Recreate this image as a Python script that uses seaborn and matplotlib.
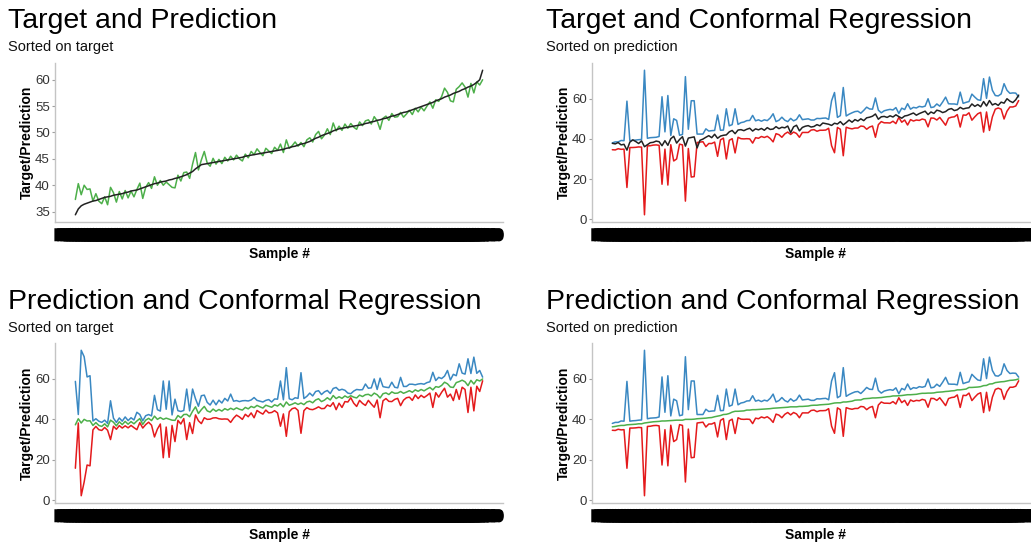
import matplotlib
matplotlib.use("Agg")
import pandas as pd
import matplotlib.pyplot as plt
import matplotlib.patheffects as pe
import seaborn as sns
from matplotlib.ticker import MultipleLocator

# values per sample, listed in target order
target = [
    34.4, 35.5, 36.1, 36.4, 36.6, 36.8, 37.0, 37.1, 37.3, 37.5,
    37.7, 37.8, 37.9, 38.1, 38.2, 38.3, 38.4, 38.6, 38.7, 38.9,
    39.0, 39.1, 39.3, 39.5, 39.7, 39.9, 40.1, 40.3, 40.4, 40.6,
    40.7, 40.8, 41.0, 41.1, 41.3, 41.4, 41.6, 41.8, 42.0, 42.3,
    42.6, 43.1, 43.5, 43.9, 44.0, 44.1, 44.2, 44.3, 44.4, 44.5,
    44.6, 44.7, 44.8, 44.9, 45.0, 45.1, 45.2, 45.3, 45.5, 45.6,
    45.7, 45.8, 45.9, 46.0, 46.1, 46.2, 46.3, 46.4, 46.5, 46.6,
    46.7, 46.8, 47.0, 47.1, 47.3, 47.4, 47.6, 47.8, 47.9, 48.1,
    48.3, 48.6, 48.9, 49.1, 49.4, 49.6, 49.8, 50.0, 50.3, 50.5,
    50.7, 50.8, 50.9, 51.0, 51.1, 51.2, 51.3, 51.4, 51.5, 51.7,
    51.8, 52.0, 52.1, 52.3, 52.4, 52.6, 52.7, 52.9, 53.1, 53.2,
    53.4, 53.6, 53.8, 53.9, 54.1, 54.3, 54.5, 54.7, 54.9, 55.1,
    55.3, 55.5, 55.7, 56.0, 56.2, 56.4, 56.7, 56.9, 57.1, 57.4,
    57.6, 57.8, 58.1, 58.3, 58.6, 58.8, 59.1, 59.5, 60.0, 61.8,
]
prediction = [
    37.3, 40.3, 38.2, 40.0, 39.2, 39.3, 37.0, 38.4, 37.0, 36.5,
    37.8, 36.3, 39.6, 38.6, 36.8, 38.8, 37.4, 39.0, 37.6, 38.9,
    37.8, 39.2, 40.4, 37.5, 39.6, 40.5, 39.4, 41.6, 40.0, 40.9,
    40.0, 40.6, 40.1, 39.6, 39.5, 41.9, 40.8, 42.4, 42.5, 41.3,
    44.0, 46.2, 42.9, 44.8, 46.4, 44.2, 43.6, 45.1, 44.0, 44.9,
    44.1, 45.3, 44.6, 45.5, 44.8, 45.7, 45.0, 44.6, 45.9, 45.2,
    46.4, 45.8, 46.9, 46.2, 45.6, 47.0, 46.5, 46.0, 47.2, 46.6,
    47.8, 46.2, 48.6, 47.0, 47.5, 48.2, 47.4, 48.1, 47.3, 48.6,
    49.0, 48.2, 49.6, 50.2, 48.8, 49.5, 50.7, 49.6, 51.8, 50.3,
    51.2, 50.4, 51.6, 50.8, 51.7, 51.0, 50.6, 52.0, 51.3, 52.2,
    52.4, 51.6, 53.0, 52.2, 50.6, 52.7, 53.1, 52.3, 53.6, 52.9,
    53.0, 53.8, 52.9, 53.5, 54.2, 53.4, 54.6, 53.9, 54.8, 54.1,
    55.0, 55.8, 54.6, 56.2, 55.9, 56.8, 58.4, 57.6, 56.0, 55.8,
    58.2, 58.7, 59.4, 58.6, 56.7, 59.3, 57.5, 59.6, 59.0, 60.0,
]
upper = [
    58.8, 42.4, 74.2, 71.0, 61.0, 61.6, 39.2, 40.3, 39.1, 38.5,
    39.6, 38.0, 49.2, 40.6, 38.5, 40.7, 39.1, 41.2, 39.4, 40.8,
    39.7, 43.5, 42.4, 39.3, 41.8, 42.4, 41.7, 51.9, 44.8, 44.1,
    59.0, 45.0, 59.0, 42.2, 50.0, 44.3, 43.9, 44.4, 55.0, 44.2,
    55.0, 50.2, 46.5, 51.7, 52.0, 48.4, 47.1, 49.5, 47.2, 49.5,
    48.1, 50.4, 49.1, 52.5, 49.0, 49.3, 48.8, 49.2, 49.3, 49.1,
    49.6, 50.8, 49.4, 49.0, 48.6, 49.4, 49.8, 48.6, 50.1, 50.0,
    59.0, 49.7, 65.6, 50.2, 49.7, 50.7, 50.4, 63.1, 50.3, 51.4,
    53.0, 51.6, 53.8, 54.2, 52.3, 53.6, 54.3, 52.8, 55.3, 55.8,
    54.4, 54.9, 54.4, 53.0, 52.7, 54.0, 54.8, 54.6, 54.7, 57.5,
    55.4, 55.6, 60.0, 54.8, 60.4, 56.2, 55.9, 55.7, 58.4, 55.9,
    55.6, 60.8, 56.3, 56.3, 57.4, 57.4, 57.1, 57.5, 57.7, 57.4,
    58.2, 58.6, 63.3, 59.2, 60.8, 60.2, 61.4, 64.2, 59.5, 62.3,
    61.6, 67.5, 62.9, 62.4, 70.0, 62.7, 70.8, 62.8, 64.2, 60.9,
]
lower = [
    15.8, 38.2, 2.2, 9.0, 17.4, 17.0, 34.8, 36.5, 34.9, 34.5,
    36.0, 34.6, 30.0, 36.6, 35.1, 36.9, 35.7, 36.8, 35.8, 37.0,
    35.9, 34.9, 38.4, 35.7, 37.4, 38.6, 37.1, 31.3, 35.2, 37.7,
    21.0, 36.2, 21.2, 37.0, 29.0, 39.5, 37.7, 40.4, 30.0, 38.4,
    33.0, 42.2, 39.3, 37.9, 40.8, 40.0, 40.1, 40.7, 40.8, 40.3,
    40.1, 40.2, 40.1, 38.5, 40.6, 42.1, 41.2, 40.0, 42.5, 41.3,
    43.2, 40.8, 44.4, 43.4, 42.6, 44.6, 43.2, 43.4, 44.3, 43.2,
    36.6, 42.7, 31.6, 43.8, 45.3, 45.7, 44.4, 33.1, 44.3, 45.8,
    45.0, 44.8, 45.4, 46.2, 45.3, 45.4, 47.1, 46.4, 48.3, 44.8,
    48.0, 45.9, 48.8, 48.6, 50.7, 48.0, 46.4, 49.4, 47.9, 46.9,
    49.4, 47.6, 46.0, 49.6, 40.8, 49.2, 50.3, 48.9, 48.8, 49.9,
    50.4, 46.8, 49.5, 50.7, 51.0, 49.4, 52.1, 50.3, 51.9, 50.8,
    51.8, 53.0, 45.9, 53.2, 51.0, 53.4, 55.4, 51.0, 52.5, 49.3,
    54.8, 49.9, 55.9, 54.8, 43.4, 55.9, 44.2, 56.4, 53.8, 59.1,
]
sample_names = [f"R{1001 + i}" for i in range(len(target))]

df = pd.DataFrame({"sample": sample_names, "target": target,
                   "prediction": prediction, "lower": lower, "upper": upper})
by_target = df.sort_values("target", kind="stable").reset_index(drop=True)
by_pred = df.sort_values("prediction", kind="stable").reset_index(drop=True)
by_target["pos"] = by_target.index
by_pred["pos"] = by_pred.index

sns.set_theme(style="white")
plt.rcParams["font.family"] = ["Liberation Sans", "DejaVu Sans"]

BLUE, RED, GREEN, DARK = "#3A88C2", "#E41A1C", "#4DAF4A", "#222222"
W, H = 1031, 546


def rect(l, t, r, b):
    return [l / W, 1 - b / H, (r - l) / W, (b - t) / H]


# (axes box, title/subtitle x, title baseline, data, title, subtitle, lines, y step)
panels = [
    (rect(55, 63, 503, 222), 8, 28, by_target, "Target and Prediction",
     "Sorted on target", [("prediction", GREEN), ("target", DARK)], 5),
    (rect(592, 63, 1039, 222), 546, 28, by_pred, "Target and Conformal Regression",
     "Sorted on prediction", [("upper", BLUE), ("lower", RED), ("target", DARK)], 20),
    (rect(55, 343, 503, 503), 8, 309, by_target, "Prediction and Conformal Regression",
     "Sorted on target", [("upper", BLUE), ("lower", RED), ("prediction", GREEN)], 20),
    (rect(592, 343, 1039, 503), 546, 309, by_pred, "Prediction and Conformal Regression",
     "Sorted on prediction", [("upper", BLUE), ("lower", RED), ("prediction", GREEN)], 20),
]

fig = plt.figure(figsize=(W / 100, H / 100), dpi=100)
# overlapping sample names merge into a solid black band, as in the original
band = [pe.withStroke(linewidth=2.5, foreground="black", joinstyle="miter")]

for box, tx, tbase, data, title, subtitle, lines, ystep in panels:
    ax = fig.add_axes(box)
    for col, color in lines:
        sns.lineplot(data=data, x="pos", y=col, color=color, linewidth=1.1, ax=ax)
    ax.margins(x=0.05, y=0.05)
    ax.set_xticks(data["pos"])
    ax.set_xticklabels(data["sample"])
    for lab in ax.get_xticklabels():
        lab.set_path_effects(band)
    ax.tick_params(axis="x", length=2.2, width=0.8, color="#a0a0a0",
                   labelsize=10, labelcolor="black", pad=2.5)
    ax.yaxis.set_major_locator(MultipleLocator(ystep))
    ax.tick_params(axis="y", length=2.2, width=0.8, color="#a0a0a0",
                   labelsize=9.5, labelcolor="#333333", pad=1.5, left=True)
    for s in ["top", "right"]:
        ax.spines[s].set_visible(False)
    for s in ["left", "bottom"]:
        ax.spines[s].set_color("#c4c4c4")
        ax.spines[s].set_linewidth(1.0)
    ax.set_xlabel("")
    ax.set_ylabel("")

    # titles and axis titles in figure pixels
    fig.text(tx / W, 1 - tbase / H, title, fontsize=20.5, va="baseline", color="black")
    fig.text(tx / W, 1 - (tbase + 23) / H, subtitle, fontsize=10.5, va="baseline", color="#111111")
    l, b, w, h = box
    fig.text(l - 28 / W, b + h / 2, "Target/Prediction", rotation=90, ha="center",
             va="center", fontsize=10, fontweight="bold", color="black")
    fig.text(l + 224 / W, b - 32 / H, "Sample #", ha="center", va="center",
             fontsize=10, fontweight="bold", color="black")

fig.savefig("out.png", dpi=100)
